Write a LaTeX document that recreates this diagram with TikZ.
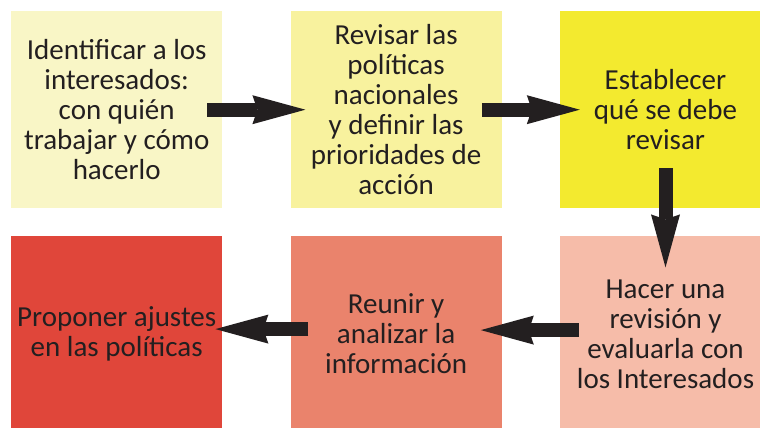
\documentclass[tikz,border=0pt]{standalone}
\usepackage{fontspec}
\setmainfont{Carlito}
\usepackage{xcolor}
\usetikzlibrary{arrows.meta, positioning}

\definecolor{ink}{HTML}{231F20}
\definecolor{stepa}{HTML}{F9F6C6}
\definecolor{stepb}{HTML}{F8F29E}
\definecolor{stepc}{HTML}{F3EA2F}
\definecolor{stepd}{HTML}{F6BCA9}
\definecolor{stepe}{HTML}{EA836C}
\definecolor{stepf}{HTML}{E0463A}

\begin{document}
\begin{tikzpicture}[x=1pt,y=-1pt]
  \tikzstyle{box}=[minimum width=211pt,minimum height=197pt,inner sep=0pt,
    align=center,text=ink,font=\fontsize{29}{30}\selectfont]
  \tikzstyle{fat}=[line width=14pt,draw=ink,
    -{Stealth[length=53pt,width=29pt,inset=5pt,line width=0pt]}]

  \clip (0,0) rectangle (760,428);

  \node[box,fill=stepa,anchor=north west] (ident) at (11,11)
    {Identificar a los\\interesados:\\con quién\\trabajar y cómo\\hacerlo};
  \node[box,fill=stepb] (revis) [right=68pt of ident]
    {Revisar las\\políticas\\nacionales\\y definir las\\prioridades de\\acción};
  \node[box,fill=stepc] (estab) [right=58pt of revis]
    {Establecer\\qué se debe\\revisar};
  \node[box,fill=stepd] (hacer) [below=27pt of estab]
    {Hacer una\\revisión y\\evaluarla con\\los Interesados};
  \node[box,fill=stepe] (reunir) [left=58pt of hacer]
    {Reunir y\\analizar la\\información};
  \node[box,fill=stepf] (propon) [left=68pt of reunir]
    {Proponer ajustes\\en las políticas};

  \draw[fat] ([xshift=-15pt]ident.east) -- ([xshift=15pt]revis.west);
  \draw[fat] ([xshift=-20pt]revis.east) -- ([xshift=20pt]estab.west);
  \draw[fat] ([yshift=40pt]estab.south) -- ([yshift=-32pt]hacer.north);
  \draw[fat] ([xshift=19pt,yshift=4pt]hacer.west) -- ([xshift=-21pt,yshift=4pt]reunir.east);
  \draw[fat] ([xshift=18pt,yshift=5pt]reunir.west) -- ([xshift=-7pt,yshift=5pt]propon.east);
\end{tikzpicture}
\end{document}
